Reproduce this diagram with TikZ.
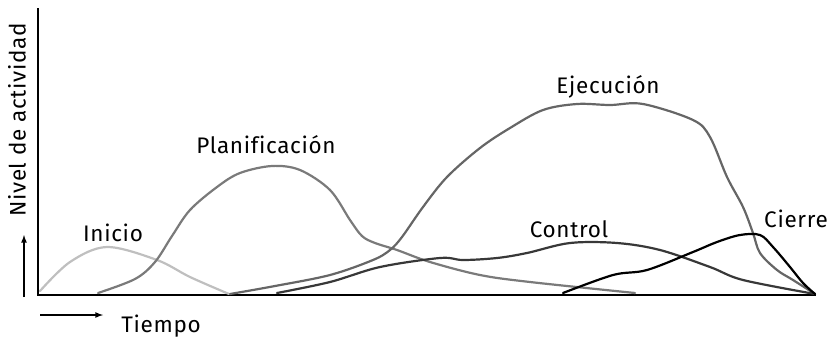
\documentclass[tikz,border=0pt]{standalone}
\usepackage{fontspec}
\setmainfont{Fira Sans}[LetterSpace=3, Ligatures=NoCommon]

\tikzset{
  phase/.style={line width=2.2pt, line cap=round},
  label/.style={inner sep=0pt, font=\fontsize{22.5}{26}\selectfont}
}

\begin{document}
\begin{tikzpicture}[x=1pt, y=-1pt]
    \useasboundingbox (0,0) rectangle (832,338);
    % axes
    \draw [black, line width=2pt] (38,8) -- (38,295) -- (816,295);
    \draw [black, line width=1.6pt, -latex] (24,297) -- (24,235);
    \draw [black, line width=1.6pt, -latex] (40,315) -- (103,315);
    \node [label, rotate=90] (nivel) at (17,120) {Nivel de actividad};
    \node [label] (tiempo) at (161,326) {Tiempo};
    % phases
    \draw [phase, color=black!25] plot [smooth, tension=0.55] coordinates
        {(40,291) (70,262) (107,247) (157,260) (190,277) (229,294)};
    \draw [phase, color=black!52] plot [smooth, tension=0.55] coordinates
        {(98,293) (135,279) (155,262) (172,236) (190,210) (217,187) (240,173)
         (272,166) (300,170) (330,190) (350,220) (362,236) (375,243) (397,250)
         (430,262) (480,275) (530,282) (635,293)};
    \draw [phase, color=black!60] plot [smooth, tension=0.55] coordinates
        {(230,294) (275,286) (330,275) (373,260) (390,250) (402,237) (423,207)
         (447,177) (480,148) (510,128) (543,110) (577,104) (610,105) (643,104)
         (693,120) (710,137) (727,177) (743,207) (753,233) (760,253) (777,270)
         (793,280) (815,294)};
    \draw [phase, color=black!78] plot [smooth, tension=0.55] coordinates
        {(277,293) (330,282) (380,267) (440,258) (463,260) (497,258) (527,253)
         (570,243) (617,243) (660,250) (710,267) (743,280) (815,294)};
    \draw [phase, color=black] plot [smooth, tension=0.55] coordinates
        {(563,293) (613,275) (647,270) (693,252) (717,242) (740,235) (760,235)
         (773,247) (790,267) (803,283) (815,294)};
    % labels
    \node [label] (inicio) at (113,233) {Inicio};
    \node [label] (plan) at (266,145) {Planificación};
    \node [label] (ejec) at (608,87) {Ejecución};
    \node [label] (control) at (569,229) {Control};
    \node [label] (cierre) at (796,219) {Cierre};
\end{tikzpicture}
\end{document}
